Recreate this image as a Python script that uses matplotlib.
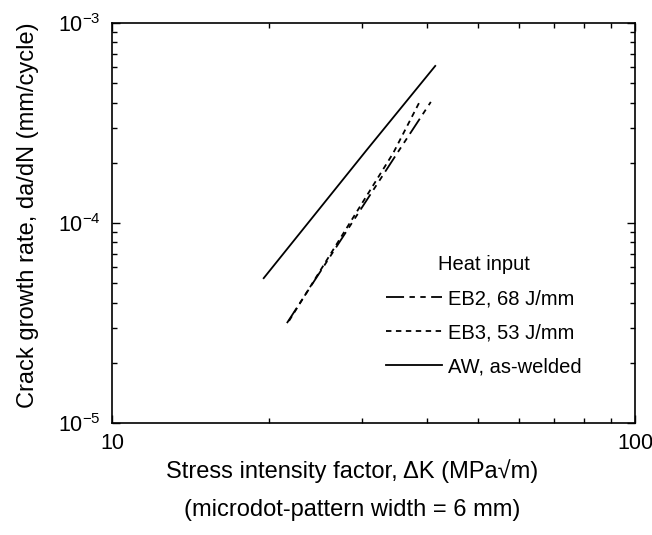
import numpy as np
import matplotlib
matplotlib.use("Agg")
import matplotlib.pyplot as plt
from matplotlib.ticker import LogLocator, NullFormatter

plt.rcParams['font.family'] = ['Liberation Sans', 'DejaVu Sans']
plt.rcParams['mathtext.fontset'] = 'custom'
plt.rcParams['mathtext.rm'] = 'Liberation Sans'

# ---- data (dK in MPa*sqrt(m), da/dN in mm/cycle) ----
eb2_dk = [21.6, 35.2, 40.7]
eb2_rate = [3.16e-5, 2.26e-4, 4.03e-4]

eb3_dk = [21.8, 34.5, 38.9]
eb3_rate = [3.24e-5, 2.24e-4, 4.12e-4]

aw_dk = [19.5, 30.7, 41.5]
aw_rate = [5.3e-5, 2.32e-4, 6.1e-4]

labels = ['EB2, 68 J/mm', 'EB3, 53 J/mm', 'AW, as-welded']

fig = plt.figure(figsize=(6.52, 5.35), dpi=100)
ax = fig.add_axes([0.1718, 0.2093, 0.8021, 0.7477])

ax.plot(eb2_dk, eb2_rate, color='black', lw=1.3, dashes=(10, 3, 3, 3, 3, 3), label=labels[0])
ax.plot(eb3_dk, eb3_rate, color='black', lw=1.3, dashes=(3, 2.5), label=labels[1])
ax.plot(aw_dk, aw_rate, color='black', lw=1.3, label=labels[2])

ax.set_xscale('log')
ax.set_yscale('log')
ax.set_xlim(10, 100)
ax.set_ylim(1e-5, 1e-3)
ax.xaxis.set_major_locator(LogLocator(base=10, numticks=5))
ax.xaxis.set_minor_locator(LogLocator(base=10, subs=np.arange(2, 10), numticks=20))
ax.yaxis.set_minor_locator(LogLocator(base=10, subs=np.arange(2, 10), numticks=20))
ax.xaxis.set_minor_formatter(NullFormatter())
ax.yaxis.set_minor_formatter(NullFormatter())
ax.xaxis.set_major_formatter(plt.FuncFormatter(lambda v, p: '%d' % round(v)))

ax.tick_params(which='both', direction='in', top=True, right=True, width=1.0,
               labelsize=15.5, colors='black')
ax.tick_params(which='major', length=6)
ax.tick_params(axis='x', which='major', pad=7)
ax.tick_params(axis='y', which='major', pad=8)
ax.tick_params(which='minor', length=3.6)
for s in ax.spines.values():
    s.set_linewidth(1.2)

ax.set_xlabel('Stress intensity factor, \u0394K (MPa\u221am)', fontsize=17)
ax.xaxis.set_label_coords(0.46, -0.09)
ax.set_ylabel('Crack growth rate, da/dN (mm/cycle)', fontsize=17)
ax.yaxis.set_label_coords(-0.14, 0.52)
fig.text(0.54, 0.047, '(microdot-pattern width = 6 mm)', fontsize=17,
         ha='center', va='center')

leg = ax.legend(loc='upper left', bbox_to_anchor=(0.524, 0.42), frameon=False,
                title='Heat input', fontsize=14.5, title_fontsize=14.5,
                handlelength=2.8, handletextpad=0.3, labelspacing=0.75,
                borderpad=0, borderaxespad=0)

fig.savefig('out.png', dpi=100)
